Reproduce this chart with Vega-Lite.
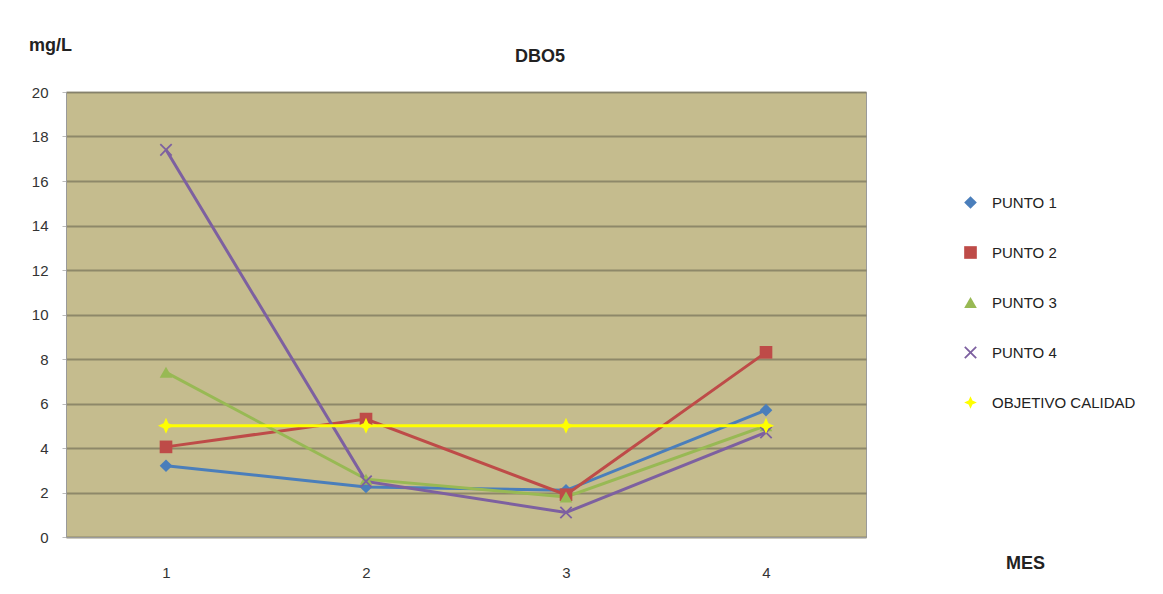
{
  "$schema": "https://vega.github.io/schema/vega-lite/v6.json",
  "width": 800,
  "height": 445,
  "autosize": "none",
  "padding": {"left": 66, "top": 92, "right": 297, "bottom": 57},
  "background": "white",
  "title": {
    "text": "DBO5",
    "anchor": "middle",
    "dx": 74,
    "offset": -30,
    "font": "Liberation Sans",
    "fontSize": 18,
    "fontWeight": "bold",
    "color": "#222"
  },
  "config": {
    "view": {"fill": "#C5BC8E", "stroke": "#9a9a9a"},
    "font": "Liberation Sans",
    "legend": {
      "orient": "none",
      "legendX": 897,
      "legendY": 103,
      "labelFontSize": 15,
      "labelColor": "#222",
      "symbolSize": 160,
      "rowPadding": 34,
      "labelOffset": 14,
      "symbolStrokeWidth": 0
    }
  },
  "data": {
    "values": [
      {"serie": "PUNTO 1", "mes": "1", "valor": 3.2},
      {"serie": "PUNTO 1", "mes": "2", "valor": 2.25},
      {"serie": "PUNTO 1", "mes": "3", "valor": 2.1},
      {"serie": "PUNTO 1", "mes": "4", "valor": 5.7},
      {"serie": "PUNTO 2", "mes": "1", "valor": 4.05},
      {"serie": "PUNTO 2", "mes": "2", "valor": 5.3},
      {"serie": "PUNTO 2", "mes": "3", "valor": 1.9},
      {"serie": "PUNTO 2", "mes": "4", "valor": 8.3},
      {"serie": "PUNTO 3", "mes": "1", "valor": 7.4},
      {"serie": "PUNTO 3", "mes": "2", "valor": 2.6},
      {"serie": "PUNTO 3", "mes": "3", "valor": 1.8},
      {"serie": "PUNTO 3", "mes": "4", "valor": 5.0},
      {"serie": "PUNTO 4", "mes": "1", "valor": 17.4},
      {"serie": "PUNTO 4", "mes": "2", "valor": 2.5},
      {"serie": "PUNTO 4", "mes": "3", "valor": 1.1},
      {"serie": "PUNTO 4", "mes": "4", "valor": 4.7},
      {"serie": "OBJETIVO CALIDAD", "mes": "1", "valor": 5},
      {"serie": "OBJETIVO CALIDAD", "mes": "2", "valor": 5},
      {"serie": "OBJETIVO CALIDAD", "mes": "3", "valor": 5},
      {"serie": "OBJETIVO CALIDAD", "mes": "4", "valor": 5}
    ]
  },
  "encoding": {
    "x": {
      "field": "mes",
      "type": "ordinal",
      "scale": {"type": "point", "padding": 0.5},
      "axis": {
        "labelAngle": 0,
        "labelPadding": 28,
        "labelFontSize": 15,
        "labelColor": "#333",
        "ticks": false,
        "domainColor": "#9a9a9a",
        "title": "MES",
        "titleFontSize": 18,
        "titleFontWeight": "bold",
        "titleColor": "#222",
        "titleX": 959,
        "titleY": 26,
        "titleBaseline": "middle",
        "titleAlign": "center"
      }
    },
    "y": {
      "field": "valor",
      "type": "quantitative",
      "scale": {"domain": [0, 20], "nice": false},
      "axis": {
        "values": [0, 2, 4, 6, 8, 10, 12, 14, 16, 18, 20],
        "labelFontSize": 15,
        "labelColor": "#333",
        "labelPadding": 14,
        "tickSize": 4,
        "tickColor": "#bbb",
        "domainColor": "#9a9a9a",
        "gridColor": "#7f7a60",
        "gridWidth": 2,
        "gridOpacity": 0.8,
        "title": "mg/L",
        "titleAngle": 0,
        "titleFontSize": 18,
        "titleFontWeight": "bold",
        "titleColor": "#222",
        "titleX": -16,
        "titleY": -47,
        "titleAlign": "center",
        "titleBaseline": "middle"
      }
    },
    "color": {
      "field": "serie",
      "type": "nominal",
      "title": null,
      "scale": {
        "domain": ["PUNTO 1", "PUNTO 2", "PUNTO 3", "PUNTO 4", "OBJETIVO CALIDAD"],
        "range": ["#4A7EBB", "#BE4B48", "#98B954", "#7D60A0", "#FFFF00"]
      }
    }
  },
  "layer": [
    {
      "mark": {"type": "line", "strokeWidth": 3},
      "encoding": {
        "strokeWidth": {
          "condition": {"test": "datum.serie === 'OBJETIVO CALIDAD'", "value": 5},
          "value": 3
        }
      }
    },
    {
      "mark": {"type": "point", "filled": true, "opacity": 1},
      "encoding": {
        "size": {
          "condition": {"test": "datum.serie === 'OBJETIVO CALIDAD'", "value": 260},
          "value": 160
        },
        "shape": {
          "field": "serie",
          "type": "nominal",
          "title": null,
          "scale": {
            "domain": ["PUNTO 1", "PUNTO 2", "PUNTO 3", "PUNTO 4", "OBJETIVO CALIDAD"],
            "range": [
              "diamond",
              "square",
              "triangle-up",
              "M-1,-0.8L-0.8,-1L0,-0.2L0.8,-1L1,-0.8L0.2,0L1,0.8L0.8,1L0,0.2L-0.8,1L-1,0.8L-0.2,0Z",
              "M0,-1L0.3,-0.3L1,0L0.3,0.3L0,1L-0.3,0.3L-1,0L-0.3,-0.3Z"
            ]
          }
        }
      }
    }
  ]
}
